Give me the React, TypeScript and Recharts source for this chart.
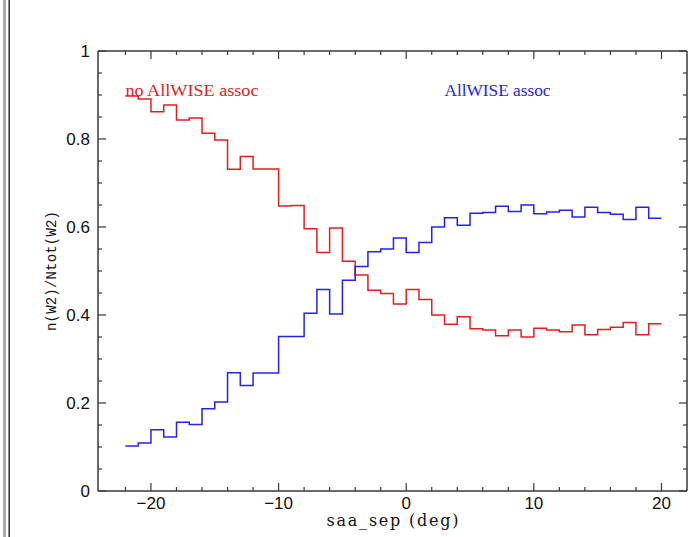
import React from 'react';
import { LineChart, Line, XAxis, YAxis, ReferenceDot, Label } from 'recharts';

// Bin edges of the histogram (saa_sep, deg)
const binEdges = [-22, -21, -20, -19, -18, -17, -16, -15, -14, -13, -12, -11, -10, -9, -8, -7, -6, -5, -4, -3, -2, -1, 0, 1, 2, 3, 4, 5, 6, 7, 8, 9, 10, 11, 12, 13, 14, 15, 16, 17, 18, 19, 20];

// Fraction without AllWISE association (red), one value per bin
const noAssoc = [0.898, 0.891, 0.862, 0.877, 0.843, 0.848, 0.813, 0.798, 0.731, 0.760, 0.732, 0.732, 0.648, 0.649, 0.596, 0.542, 0.598, 0.522, 0.491, 0.456, 0.449, 0.425, 0.458, 0.435, 0.400, 0.379, 0.396, 0.369, 0.366, 0.353, 0.366, 0.350, 0.370, 0.366, 0.362, 0.377, 0.355, 0.367, 0.372, 0.383, 0.355, 0.380];

// Fraction with AllWISE association (blue), one value per bin
const withAssoc = [0.102, 0.109, 0.139, 0.123, 0.156, 0.151, 0.187, 0.202, 0.269, 0.240, 0.268, 0.268, 0.351, 0.351, 0.404, 0.458, 0.402, 0.479, 0.510, 0.544, 0.550, 0.575, 0.542, 0.565, 0.600, 0.621, 0.604, 0.631, 0.633, 0.647, 0.635, 0.650, 0.630, 0.634, 0.638, 0.623, 0.645, 0.633, 0.629, 0.617, 0.645, 0.620];

const xTicks = [-22, -20, -18, -16, -14, -12, -10, -8, -6, -4, -2, 0, 2, 4, 6, 8, 10, 12, 14, 16, 18, 20];
const xLabelTicks = [-20, -10, 0, 10, 20];
const yTicks = [0, 0.05, 0.1, 0.15, 0.2, 0.25, 0.3, 0.35, 0.4, 0.45, 0.5, 0.55, 0.6, 0.65, 0.7, 0.75, 0.8, 0.85, 0.9, 0.95, 1];
const yLabelTicks = [0, 0.2, 0.4, 0.6, 0.8, 1];

const annotations = [
  { x: -22, y: 0.898, text: 'no AllWISE assoc', color: '#e0201f', width: 133 },
  { x: 3, y: 0.898, text: 'AllWISE assoc', color: '#2323e8', width: 106 },
];

const xTitle = 'saa_sep (deg)';
const yTitle = 'n(W2)/Ntot(W2)';

const RED = '#e0201f';
const BLUE = '#2323e8';
const AXIS = '#3a3a3a';
const X_DOMAIN: [number, number] = [-24.15, 22];
const Y_DOMAIN: [number, number] = [0, 1];

const tableData = binEdges.map((edge, i) => ({
  x: edge,
  red: noAssoc[Math.min(i, noAssoc.length - 1)],
  blue: withAssoc[Math.min(i, withAssoc.length - 1)],
}));

const isIn = (list: number[], v: number) => list.some((t) => Math.abs(t - v) < 1e-6);
const fmtX = (v: number) => (v < 0 ? '\u2212' + Math.abs(v) : String(v));
const fmtY = (v: number) => String(Math.round(v * 10) / 10);

const BottomTick = (props: any) => {
  const { x, y, payload } = props;
  const v = payload.value;
  const major = isIn(xLabelTicks, v);
  return (
    <g>
      <line x1={x} y1={y} x2={x} y2={y - (major ? 8 : 4)} stroke={AXIS} strokeWidth={1.2} />
      {major && (
        <text x={x} y={y + 17.5} textAnchor="middle" fontFamily="Liberation Sans" fontSize={17} fill="#111">
          {fmtX(v)}
        </text>
      )}
    </g>
  );
};

const TopTick = (props: any) => {
  const { x, y, payload } = props;
  const major = isIn(xLabelTicks, payload.value);
  return <line x1={x} y1={y} x2={x} y2={y + (major ? 8 : 4)} stroke={AXIS} strokeWidth={1.2} />;
};

const LeftTick = (props: any) => {
  const { x, y, payload } = props;
  const v = payload.value;
  const major = isIn(yLabelTicks, v);
  return (
    <g>
      <line x1={x} y1={y} x2={x + (major ? 8 : 4)} y2={y} stroke={AXIS} strokeWidth={1.2} />
      {major && (
        <text x={x - 8} y={y + 6} textAnchor="end" fontFamily="Liberation Sans" fontSize={17} fill="#111">
          {fmtY(v)}
        </text>
      )}
    </g>
  );
};

const RightTick = (props: any) => {
  const { x, y, payload } = props;
  const major = isIn(yLabelTicks, payload.value);
  return <line x1={x} y1={y} x2={x - (major ? 8 : 4)} y2={y} stroke={AXIS} strokeWidth={1.2} />;
};

const renderXTitle = (props: any) => {
  const vb = props.viewBox || { x: 98, y: 491, width: 589, height: 46 };
  return (
    <text
      x={vb.x + vb.width / 2}
      y={vb.y + 35}
      textAnchor="middle"
      fontFamily="DejaVu Serif"
      fontSize={16}
      fill="#111"
      textLength={132}
      lengthAdjust="spacing"
    >
      {xTitle}
    </text>
  );
};

const renderYTitle = (props: any) => {
  const vb = props.viewBox || { x: 0, y: 51, width: 98, height: 440 };
  const cx = 56;
  const cy = vb.y + vb.height / 2;
  return (
    <text
      x={cx}
      y={cy}
      transform={`rotate(-90, ${cx}, ${cy})`}
      textAnchor="middle"
      fontFamily="Liberation Mono"
      fontSize={14}
      fill="#111"
      textLength={120}
      lengthAdjust="spacing"
    >
      {yTitle}
    </text>
  );
};

const makeAnnotation = (a: (typeof annotations)[number]) => (props: any) => {
  const vb = props.viewBox || { x: 0, y: 0, width: 0, height: 0 };
  const cx = vb.x + (vb.width || 0) / 2;
  const cy = vb.y + (vb.height || 0) / 2;
  return (
    <text
      x={cx}
      y={cy}
      fontFamily="Liberation Serif"
      fontSize={17}
      fill={a.color}
      textLength={a.width}
      lengthAdjust="spacingAndGlyphs"
    >
      {a.text}
    </text>
  );
};

export default function App() {
  return (
    <div style={{ position: 'absolute', left: 0, top: 0, width: 700, height: 537, background: '#fff' }}>
      <div style={{ position: 'absolute', left: 3, top: 0, width: 3, height: 537, background: '#aaaaaa' }} />
      <div style={{ position: 'absolute', left: 8, top: 0, width: 2, height: 537, background: '#8a8a8a' }} />
      <div style={{ position: 'absolute', left: 9, top: 0, width: 1, height: 537, background: '#333' }} />
      <div style={{ position: 'absolute', left: 0, top: 0 }}>
        <LineChart width={700} height={537} data={tableData} margin={{ top: 50, right: 12, bottom: 0, left: 0 }}>
          <XAxis
            xAxisId="bottom"
            dataKey="x"
            type="number"
            domain={X_DOMAIN}
            allowDataOverflow
            ticks={xTicks}
            interval={0}
            tick={<BottomTick />}
            tickLine={false}
            tickSize={0}
            tickMargin={0}
            height={46}
            axisLine={{ stroke: AXIS, strokeWidth: 1.5 }}
          >
            <Label content={renderXTitle} />
          </XAxis>
          <XAxis
            xAxisId="top"
            orientation="top"
            dataKey="x"
            type="number"
            domain={X_DOMAIN}
            allowDataOverflow
            ticks={xTicks}
            interval={0}
            tick={<TopTick />}
            tickLine={false}
            tickSize={0}
            tickMargin={0}
            height={1}
            axisLine={{ stroke: AXIS, strokeWidth: 1.5 }}
          />
          <YAxis
            yAxisId="left"
            type="number"
            domain={Y_DOMAIN}
            allowDataOverflow
            ticks={yTicks}
            interval={0}
            tick={<LeftTick />}
            tickLine={false}
            tickSize={0}
            tickMargin={0}
            width={98}
            axisLine={{ stroke: AXIS, strokeWidth: 1.5 }}
          >
            <Label content={renderYTitle} />
          </YAxis>
          <YAxis
            yAxisId="right"
            orientation="right"
            type="number"
            domain={Y_DOMAIN}
            allowDataOverflow
            ticks={yTicks}
            interval={0}
            tick={<RightTick />}
            tickLine={false}
            tickSize={0}
            tickMargin={0}
            width={1}
            axisLine={{ stroke: AXIS, strokeWidth: 1.5 }}
          />
          <Line
            xAxisId="bottom"
            yAxisId="left"
            dataKey="red"
            type="stepAfter"
            stroke={RED}
            strokeWidth={1.5}
            dot={false}
            activeDot={false}
            isAnimationActive={false}
          />
          <Line
            xAxisId="top"
            yAxisId="right"
            dataKey="blue"
            type="stepAfter"
            stroke={BLUE}
            strokeWidth={1.5}
            dot={false}
            activeDot={false}
            isAnimationActive={false}
          />
          {annotations.map((a) => (
            <ReferenceDot
              key={a.text}
              xAxisId="bottom"
              yAxisId="left"
              x={a.x}
              y={a.y}
              r={1}
              fill="none"
              stroke="none"
              label={makeAnnotation(a)}
            />
          ))}
        </LineChart>
      </div>
    </div>
  );
}
